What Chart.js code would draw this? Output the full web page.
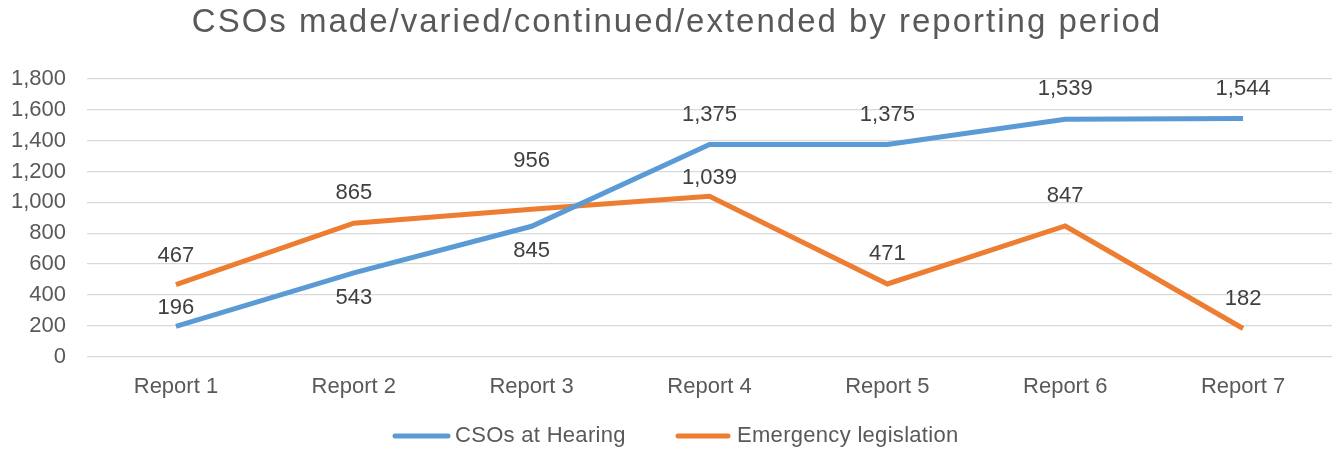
<!DOCTYPE html>
<html>
<head>
<meta charset="utf-8">
<script src="https://cdn.jsdelivr.net/npm/chart.js@4.4.1/dist/chart.umd.min.js"></script>
<style>
  html, body { margin: 0; padding: 0; background: #fff; }
  #wrap { width: 1341px; height: 452px; }
</style>
</head>
<body>
<div id="wrap"><canvas id="chart" width="1341" height="452"></canvas></div>
<script>
const categories = ["Report 1", "Report 2", "Report 3", "Report 4", "Report 5", "Report 6", "Report 7"];
const hearingValues = [196, 543, 845, 1375, 1375, 1539, 1544];
const emergencyValues = [467, 865, 956, 1039, 471, 847, 182];
const yTicks = [0, 200, 400, 600, 800, 1000, 1200, 1400, 1600, 1800];
const chartTitle = "CSOs made/varied/continued/extended by reporting period";

const BLUE = "#5B9BD5";
const ORANGE = "#ED7D31";
const GREY = "#595959";
const FONT = "'Liberation Sans', Arial, sans-serif";

// label offset in px from the point (negative = above), per series
const labelShift = [
  [-18, 25, 25, -30, -30, -30, -30],
  [-29, -30, -48, -18, -30, -30, -30]
];

// legend layout (x of line start / text start), Excel spacing
const legendSpots = [
  { line: [393, 450], text: 455 },
  { line: [676, 730], text: 737 }
];

function fmt(n) {
  return Number(n).toLocaleString("en-US");
}

// title drawn by hand so it can get Excel-like letter spacing
const titlePlugin = {
  id: "titlePlugin",
  afterDraw(chart) {
    const ctx = chart.ctx;
    ctx.save();
    ctx.font = "33px " + FONT;
    ctx.letterSpacing = "2px";
    ctx.fillStyle = GREY;
    ctx.textAlign = "center";
    ctx.textBaseline = "middle";
    ctx.fillText(chartTitle, 677, 23);
    ctx.restore();
  }
};

// legend drawn by hand: Chart.js ties item gap to vertical padding
const legendPlugin = {
  id: "legendPlugin",
  afterDraw(chart) {
    const ctx = chart.ctx;
    const y = 436;
    ctx.save();
    chart.data.datasets.forEach((ds, i) => {
      const s = legendSpots[i];
      ctx.strokeStyle = ds.borderColor;
      ctx.lineWidth = 5;
      ctx.lineCap = "round";
      ctx.beginPath();
      ctx.moveTo(s.line[0] + 2, y);
      ctx.lineTo(s.line[1] - 2, y);
      ctx.stroke();
      ctx.font = "22px " + FONT;
      ctx.letterSpacing = "0.3px";
      ctx.fillStyle = GREY;
      ctx.textAlign = "left";
      ctx.textBaseline = "middle";
      ctx.fillText(ds.label, s.text, y);
    });
    ctx.restore();
  }
};

const pointLabels = {
  id: "pointLabels",
  afterDatasetsDraw(chart) {
    const ctx = chart.ctx;
    ctx.save();
    ctx.font = "22px " + FONT;
    ctx.fillStyle = "#404040";
    ctx.textAlign = "center";
    ctx.textBaseline = "middle";
    chart.data.datasets.forEach((ds, di) => {
      const meta = chart.getDatasetMeta(di);
      meta.data.forEach((pt, i) => {
        ctx.fillText(fmt(ds.data[i]), pt.x, pt.y + labelShift[di][i]);
      });
    });
    ctx.restore();
  }
};

new Chart(document.getElementById("chart").getContext("2d"), {
  type: "line",
  data: {
    labels: categories,
    datasets: [
      {
        label: "CSOs at Hearing",
        data: hearingValues,
        borderColor: BLUE,
        backgroundColor: BLUE,
        borderWidth: 5,
        pointRadius: 0,
        tension: 0
      },
      {
        label: "Emergency legislation",
        data: emergencyValues,
        borderColor: ORANGE,
        backgroundColor: ORANGE,
        borderWidth: 5,
        pointRadius: 0,
        tension: 0
      }
    ]
  },
  options: {
    responsive: false,
    animation: false,
    devicePixelRatio: 1,
    layout: { padding: { left: 0, right: 9, top: 79, bottom: 43 } },
    plugins: {
      title: { display: false },
      legend: { display: false },
      tooltip: { enabled: false }
    },
    scales: {
      x: {
        offset: true,
        grid: { display: false },
        border: { display: false },
        ticks: {
          color: GREY,
          font: { family: FONT, size: 22 },
          padding: 9
        }
      },
      y: {
        min: 0,
        max: 1800,
        afterBuildTicks: axis => { axis.ticks = yTicks.map(v => ({ value: v })); },
        afterFit: axis => { axis.width = 87; },
        grid: { color: "#D9D9D9", lineWidth: 1.3, drawTicks: false },
        border: { display: false },
        ticks: {
          color: GREY,
          font: { family: FONT, size: 22 },
          padding: 21,
          callback: v => fmt(v)
        }
      }
    }
  },
  plugins: [pointLabels, titlePlugin, legendPlugin]
});
</script>
</body>
</html>
